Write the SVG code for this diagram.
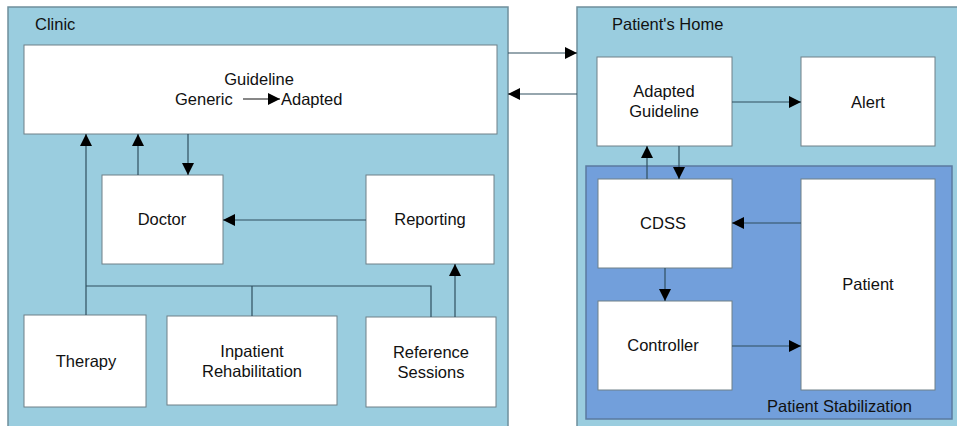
<svg xmlns="http://www.w3.org/2000/svg" width="957" height="426" viewBox="0 0 957 426">
<defs>
<marker id="ah" viewBox="0 0 10 10" refX="10" refY="5" markerWidth="12" markerHeight="12" markerUnits="userSpaceOnUse" orient="auto">
<path d="M0,0 L10,5 L0,10 z" fill="#000"/>
</marker>
<style>
.cont{fill:#9acddf;stroke:#6f8f9c;stroke-width:1.5}
.stab{fill:#729fdb;stroke:#5b7aa0;stroke-width:1.5}
.box{fill:#fff;stroke:#6f8088;stroke-width:1}
.t{font-family:"Liberation Sans",Arial,sans-serif;font-size:16.5px;fill:#111;text-anchor:middle}
.lbl{font-family:"Liberation Sans",Arial,sans-serif;font-size:16.5px;fill:#111}
.c{fill:none;stroke:#2f4f5f;stroke-width:1.2}
.ca{fill:none;stroke:#2f4f5f;stroke-width:1.2;marker-end:url(#ah)}
</style>
</defs>
<rect width="957" height="426" fill="#fff"/>
<g id="clinic">
<rect class="cont" x="8" y="7" width="500" height="425"/>
<text class="lbl" x="35" y="30">Clinic</text>
</g>
<g id="home">
<rect class="cont" x="577" y="7" width="384" height="425"/>
<text class="lbl" x="612" y="30">Patient's Home</text>
</g>
<g id="stabilization">
<rect class="stab" x="586" y="166" width="366" height="253"/>
<text class="lbl" x="767" y="412">Patient Stabilization</text>
</g>
<g id="guideline">
<rect class="box" x="24" y="45" width="473" height="89"/>
<text class="t" x="259" y="85">Guideline</text>
<text class="lbl" x="175" y="105">Generic</text>
<line x1="243" y1="99" x2="280" y2="99" stroke="#111" stroke-width="1.2" marker-end="url(#ah)"/>
<text class="lbl" x="281" y="105">Adapted</text>
</g>
<g id="doctor">
<rect class="box" x="102" y="175" width="121" height="89"/>
<text class="t" x="162" y="225">Doctor</text>
</g>
<g id="reporting">
<rect class="box" x="366" y="175" width="128" height="89"/>
<text class="t" x="430" y="225">Reporting</text>
</g>
<g id="therapy">
<rect class="box" x="24" y="315" width="122" height="92"/>
<text class="t" x="86" y="367">Therapy</text>
</g>
<g id="inpatient">
<rect class="box" x="167" y="316" width="170" height="89"/>
<text class="t" x="252" y="357">Inpatient</text>
<text class="t" x="252" y="377">Rehabilitation</text>
</g>
<g id="reference">
<rect class="box" x="366" y="317" width="130" height="90"/>
<text class="t" x="431" y="358">Reference</text>
<text class="t" x="431" y="378">Sessions</text>
</g>
<g id="adapted-guideline">
<rect class="box" x="597" y="57" width="135" height="89"/>
<text class="t" x="664" y="97">Adapted</text>
<text class="t" x="664" y="117">Guideline</text>
</g>
<g id="alert">
<rect class="box" x="801" y="57" width="134" height="89"/>
<text class="t" x="868" y="108">Alert</text>
</g>
<g id="cdss">
<rect class="box" x="598" y="179" width="134" height="89"/>
<text class="t" x="663" y="229">CDSS</text>
</g>
<g id="controller">
<rect class="box" x="598" y="301" width="134" height="89"/>
<text class="t" x="663" y="351">Controller</text>
</g>
<g id="patient">
<rect class="box" x="801" y="179" width="134" height="211"/>
<text class="t" x="868" y="290">Patient</text>
</g>
<g id="connectors">
<line class="ca" x1="508" y1="53" x2="577" y2="53"/>
<line class="ca" x1="577" y1="94" x2="508" y2="94"/>
<line class="ca" x1="86" y1="315" x2="86" y2="134"/>
<line class="ca" x1="138" y1="175" x2="138" y2="134"/>
<line class="ca" x1="188" y1="134" x2="188" y2="175"/>
<line class="ca" x1="366" y1="220" x2="223" y2="220"/>
<polyline class="c" points="86,286 431,286 431,317"/>
<line class="c" x1="252" y1="286" x2="252" y2="316"/>
<line class="ca" x1="455" y1="317" x2="455" y2="264"/>
<line class="ca" x1="732" y1="102" x2="801" y2="102"/>
<line class="ca" x1="647" y1="179" x2="647" y2="146"/>
<line class="ca" x1="679" y1="146" x2="679" y2="179"/>
<line class="ca" x1="665" y1="268" x2="665" y2="301"/>
<line class="ca" x1="801" y1="223" x2="732" y2="223"/>
<line class="ca" x1="732" y1="346" x2="801" y2="346"/>
</g>
</svg>
